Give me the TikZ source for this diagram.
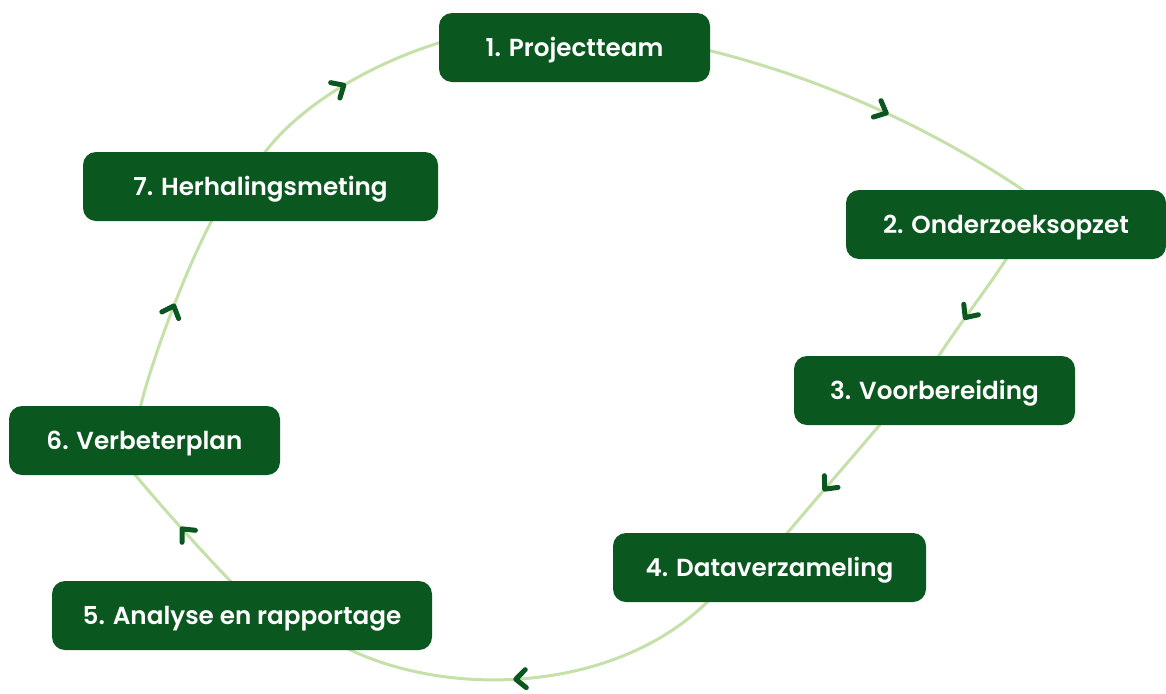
\documentclass[tikz,border=0pt]{standalone}
\usepackage{fontspec}
\setmainfont{Poppins SemiBold}
\usetikzlibrary{calc,decorations.markings,backgrounds}
\definecolor{dkgreen}{RGB}{10,87,32}
\definecolor{ltgreen}{RGB}{197,224,168}
\begin{document}
\begin{tikzpicture}[x=0.75pt,y=-0.75pt,
  box/.style={fill=dkgreen, rounded corners=9.75pt, minimum height=51.75pt,
    text=white, font=\fontsize{18.5pt}{20pt}\selectfont, inner sep=0pt,
    text height=16pt, text depth=2pt},
  link/.style={draw=ltgreen, line width=2.25pt, postaction={decorate},
    decoration={markings, mark=at position #1 with {\draw[chev] (-10,9) -- (0,0) -- (-10,-9);}}},
  link/.default=0.5,
  chev/.style={draw=dkgreen, line width=3.75pt, line cap=round, line join=round}]
\useasboundingbox (0,0) rectangle (1166,693);
\node[box, minimum width={271*0.75pt}] (n1) at (574.5,47.5) {1. Projectteam};
\node[box, minimum width={320*0.75pt}] (n2) at (1006,224.5) {2. Onderzoeksopzet};
\node[box, minimum width={281*0.75pt}] (n3) at (934.5,390.5) {3. Voorbereiding};
\node[box, minimum width={313*0.75pt}] (n4) at (769.5,567.5) {4. Dataverzameling};
\node[box, minimum width={380*0.75pt}] (n5) at (242,615.5) {5. Analyse en rapportage};
\node[box, minimum width={271*0.75pt}] (n6) at (144.5,440.5) {6. Verbeterplan};
\node[box, minimum width={355*0.75pt}] (n7) at (260.5,186.5) {7. Herhalingsmeting};
\begin{scope}[on background layer]
\draw[link=0.54] ($(n1.east)+(-3,2.5)$) .. controls (825,79) and (935,130) .. ($(n2.north)+(21,3)$);
\draw[link=0.6] ($(n2.south)+(2,-3)$) .. controls (990,285) and (955,330) .. ($(n3.north)+(2.5,3)$);
\draw[link=0.59] ($(n3.south)+(-52.5,-3)$) .. controls (850,460) and (815,500) .. ($(n4.north)+(15.5,3)$);
\draw[link=0.55] ($(n4.south)+(-59.5,-3)$) .. controls (615,695) and (445,698) .. ($(n5.south)+(103,-3)$);
\draw[link=0.5] ($(n5.north)+(-9,3)$) .. controls (205,555) and (160,505) .. ($(n6.south)+(-11.5,-3)$);
\draw[link=0.53] ($(n6.north)+(-4.5,3)$) .. controls (150,365) and (185,270) .. ($(n7.south)+(-47.5,-3)$);
\draw[link=0.5] ($(n7.north)+(2.5,3)$) .. controls (300,105) and (370,64) .. ($(n1.west)+(3,-5.5)$);
\end{scope}
\end{tikzpicture}
\end{document}
